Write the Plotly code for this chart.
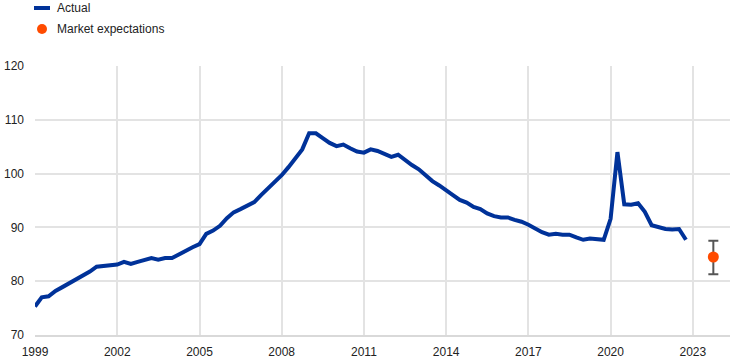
import plotly.graph_objects as go
import pandas as pd

# Quarterly observations, 1999Q1 - 2022Q4
start_quarter = "1999-01-01"
actual = [
    75.3, 77.0, 77.2, 78.2,
    78.9, 79.6, 80.5, 81.2,
    81.8, 82.7, 82.8, 83.0,
    83.1, 83.6, 83.2, 83.6,
    83.9, 84.3, 84.0, 84.3,
    84.3, 85.0, 85.6, 86.3,
    86.9, 88.8, 89.4, 90.3,
    91.7, 92.8, 93.4, 94.0,
    94.7, 96.0, 97.2, 98.3,
    99.7, 101.2, 102.8, 104.5,
    107.5, 107.5, 106.6, 105.7,
    105.1, 105.4, 104.7, 104.1,
    103.9, 104.5, 104.2, 103.6,
    103.1, 103.5, 102.5, 101.6,
    100.8, 99.6, 98.6, 97.8,
    96.8, 96.0, 95.1, 94.6,
    93.8, 93.4, 92.6, 92.1,
    91.85, 91.85, 91.4, 91.05,
    90.5, 89.7, 89.1, 88.65,
    88.8, 88.65, 88.65, 88.15,
    87.7, 87.95, 87.85, 87.7,
    91.6, 104.0, 94.3, 94.2,
    94.5, 92.9, 90.4, 90.1,
    89.7, 89.6, 89.7, 87.7,
]
dates = pd.date_range(start_quarter, periods=len(actual), freq="QS")

# Market expectations
exp_date = ["2023-10-01"]
exp_value = [84.5]
exp_high = [87.5]
exp_low = [81.3]

tick_years = [1999, 2002, 2005, 2008, 2011, 2014, 2017, 2020, 2023]
legend_labels = ["Actual", "Market expectations"]

BLUE = "#003299"
ORANGE = "#FF4B00"

W, H = 740, 362
ML, MR, MT, MB = 35, 10, 66, 27
PW, PH = W - ML - MR, H - MT - MB


def px_x(px):
    return (px - ML) / PW


def px_y(py):
    return (H - MB - py) / PH


fig = go.Figure()
fig.add_trace(go.Scatter(
    x=dates, y=actual, mode="lines", name=legend_labels[0],
    line=dict(color=BLUE, width=4),
    showlegend=False, hoverinfo="skip",
))
fig.add_trace(go.Scatter(
    x=exp_date, y=exp_value, mode="markers", name=legend_labels[1],
    marker=dict(color=ORANGE, size=11),
    showlegend=False,
    error_y=dict(type="data", symmetric=False,
                 array=[h - v for h, v in zip(exp_high, exp_value)],
                 arrayminus=[v - l for l, v in zip(exp_low, exp_value)],
                 color="#555555", thickness=2, width=5),
))

# manual legend (top-left)
shapes = [
    dict(type="line", xref="paper", yref="paper",
         x0=px_x(34), x1=px_x(50), y0=px_y(8), y1=px_y(8),
         line=dict(color=BLUE, width=4)),
    dict(type="circle", xref="paper", yref="paper",
         x0=px_x(37), x1=px_x(47), y0=px_y(34), y1=px_y(24),
         fillcolor=ORANGE, line=dict(color=ORANGE, width=0)),
]
annotations = [
    dict(text=legend_labels[0], xref="paper", yref="paper", x=px_x(55), y=px_y(8),
         xanchor="left", yanchor="middle", showarrow=False,
         font=dict(size=12, color="#222222")),
    dict(text=legend_labels[1], xref="paper", yref="paper", x=px_x(55), y=px_y(29),
         xanchor="left", yanchor="middle", showarrow=False,
         font=dict(size=12, color="#222222")),
]

fig.update_layout(
    width=W, height=H,
    margin=dict(l=ML, r=MR, t=MT, b=MB, autoexpand=False),
    paper_bgcolor="white", plot_bgcolor="white",
    font=dict(family="Liberation Sans, Arial, sans-serif", size=12, color="#222222"),
    showlegend=False,
    shapes=shapes, annotations=annotations,
)
fig.update_xaxes(
    type="date", automargin=False,
    range=["1999-01-01", "2024-05-10"],
    tickvals=[f"{y}-01-01" for y in tick_years],
    ticktext=[str(y) for y in tick_years],
    showgrid=True, gridcolor="#e3e3e3", gridwidth=1.5,
    showline=True, linecolor="#d9d9d9", linewidth=1.5,
    ticks="", zeroline=False, ticklabelstandoff=5,
)
fig.update_yaxes(
    automargin=False,
    range=[70, 120], dtick=10,
    showgrid=True, gridcolor="#e3e3e3", gridwidth=1.5,
    showline=False, ticks="", zeroline=False,
    ticklabelstandoff=10,
)

fig.write_html("out.html")
